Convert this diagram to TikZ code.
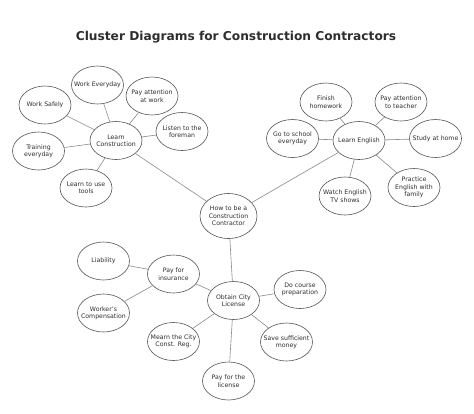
\documentclass[tikz,border=0pt]{standalone}
\usepackage{fontspec}
\setmainfont{DejaVu Sans}
\usetikzlibrary{shapes.geometric}
\definecolor{txtc}{HTML}{2E2E2E}
\definecolor{edgec}{HTML}{555555}
\definecolor{linec}{HTML}{8A8A8A}
\tikzset{
  bub/.style={draw=edgec, line width=0.6pt, ellipse, minimum width=52pt, minimum height=38pt, inner sep=0pt, fill=white},
  bigbub/.style={bub, minimum width=57pt, minimum height=45pt},
  txt/.style={text=txtc, align=center, font=\fontsize{6.2}{7.4}\selectfont, inner sep=0pt},
  conn/.style={draw=linec, line width=0.6pt},
}
\newcommand{\bubble}[4][bub]{\node[#1, label={[txt]center:{#4}}] (#2) at (#3) {};}
\begin{document}
\begin{tikzpicture}[x=1pt,y=-1pt]
\useasboundingbox (0,0) rectangle (474,413);
\node[text=txtc, font=\bfseries\fontsize{12.2}{14}\selectfont] (title) at (236,37) {Cluster Diagrams for Construction Contractors};
% center
\bubble[bigbub]{ctr}{228.5,216}{How to be a\\Construction\\Contractor}
% Learn Construction cluster
\bubble{lc}{116,140.5}{Learn\\Construction}
\bubble{we}{97.5,85}{Work Everyday}
\bubble{pw}{152,96}{Pay attention\\at work}
\bubble{ws}{45,105}{Work Safely}
\bubble{lf}{182,131.5}{Listen to the\\foreman}
\bubble{te}{38.5,151}{Training\\everyday}
\bubble{lt}{86,188}{Learn to use\\tools}
% Learn English cluster
\bubble{le}{359,140.5}{Learn English}
\bubble{fh}{326,102}{Finish\\homework}
\bubble{pt}{401,102}{Pay attention\\to teacher}
\bubble{gs}{292.5,138.5}{Go to school\\everyday}
\bubble{sh}{435.5,138.5}{Study at home}
\bubble{wt}{345,196}{Watch English\\TV shows}
\bubble{pe}{414,187.5}{Practice\\English with\\family}
% Obtain City License cluster
\bubble{oc}{233.5,300.5}{Obtain City\\License}
\bubble{pi}{173.5,274}{Pay for\\insurance}
\bubble{li}{103.5,261}{Liability}
\bubble{wc}{103.5,313}{Worker's\\Compensation}
\bubble{dc}{300,289.5}{Do course\\preparation}
\bubble{mc}{173.5,341.5}{Mearn the City\\Const. Reg.}
\bubble{ss}{286.5,342}{Save sufficient\\money}
\bubble{pl}{228.5,381}{Pay for the\\license}
% connectors
\foreach \a/\b in {ctr/lc, ctr/le, ctr/oc,
  lc/we, lc/pw, lc/ws, lc/lf, lc/te, lc/lt,
  le/fh, le/pt, le/gs, le/sh, le/wt, le/pe,
  oc/pi, oc/dc, oc/mc, oc/ss, oc/pl,
  pi/li, pi/wc}
  \draw[conn] (\a) -- (\b);
\end{tikzpicture}
\end{document}
